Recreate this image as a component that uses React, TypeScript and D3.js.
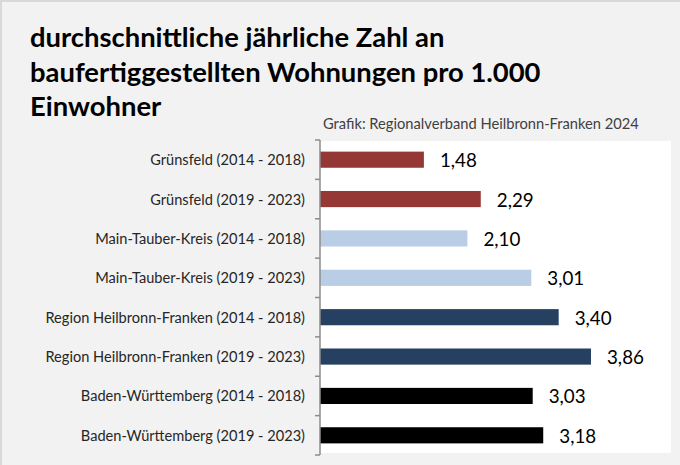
import React from "react";
import * as d3 from "d3";

const categories = [
  "Grünsfeld (2014 - 2018)",
  "Grünsfeld (2019 - 2023)",
  "Main-Tauber-Kreis (2014 - 2018)",
  "Main-Tauber-Kreis (2019 - 2023)",
  "Region Heilbronn-Franken (2014 - 2018)",
  "Region Heilbronn-Franken (2019 - 2023)",
  "Baden-Württemberg (2014 - 2018)",
  "Baden-Württemberg (2019 - 2023)",
];
const values = [1.48, 2.29, 2.1, 3.01, 3.4, 3.86, 3.03, 3.18];
const barColors = ["#953735", "#953735", "#b9cde5", "#b9cde5", "#254061", "#254061", "#000000", "#000000"];
const titleLines = [
  "durchschnittliche jährliche Zahl an",
  "baufertiggestellten Wohnungen pro 1.000",
  "Einwohner",
];
const subtitle = "Grafik: Regionalverband Heilbronn-Franken 2024";

const W = 680;
const H = 465;
const plot = { left: 320, right: 671, top: 140, bottom: 455 };

export default function App() {
  const x = d3.scaleLinear().domain([0, 5]).range([plot.left, plot.right]);
  const y = d3
    .scaleBand<string>()
    .domain(categories)
    .range([plot.top, plot.bottom])
    .paddingInner(0.59)
    .paddingOuter(0.295);
  const step = y.step();
  const tickYs = d3.range(categories.length + 1).map((i) => plot.top + i * step);
  const fmt = (v: number) => v.toFixed(2).replace(".", ",");
  const font = "Lato, 'Open Sans', sans-serif";

  return (
    <svg
      width={W}
      height={H}
      style={{ position: "fixed", left: 0, top: 0, display: "block" }}
      fontFamily={font}
    >
      <rect x={0} y={0} width={W} height={H} fill="#f2f2f2" />
      <rect x={1} y={1} width={W + 10} height={H + 10} fill="none" stroke="#d9d9d9" strokeWidth={2} />
      <rect x={plot.left} y={plot.top + 1} width={plot.right - plot.left} height={plot.bottom - plot.top - 3} fill="#ffffff" />
      {titleLines.map((t, i) => (
        <text key={i} x={30} y={47 + i * 34.5} fontSize={27.4} fontWeight={700} fill="#000">
          {t}
        </text>
      ))}
      <text x={323} y={129} fontSize={14.7} fill="#404040">
        {subtitle}
      </text>
      {categories.map((c, i) => (
        <g key={c}>
          <rect
            x={x(0)}
            y={y(c)!}
            width={x(values[i]) - x(0)}
            height={y.bandwidth()}
            fill={barColors[i]}
          />
          <text
            x={x(values[i]) + 16}
            y={y(c)! + y.bandwidth() / 2}
            dominantBaseline="central"
            fontSize={18.8}
            fill="#000"
          >
            {fmt(values[i])}
          </text>
          <text
            x={305}
            y={y(c)! + y.bandwidth() / 2}
            dominantBaseline="central"
            textAnchor="end"
            fontSize={14.6}
            fill="#262626"
          >
            {c}
          </text>
        </g>
      ))}
      <line x1={plot.left} x2={plot.left} y1={plot.top} y2={plot.bottom} stroke="#8c8c8c" strokeWidth={1.5} />
      {tickYs.map((ty, i) => (
        <line key={i} x1={plot.left - 5} x2={plot.left} y1={ty} y2={ty} stroke="#8c8c8c" strokeWidth={1.5} />
      ))}
    </svg>
  );
}
